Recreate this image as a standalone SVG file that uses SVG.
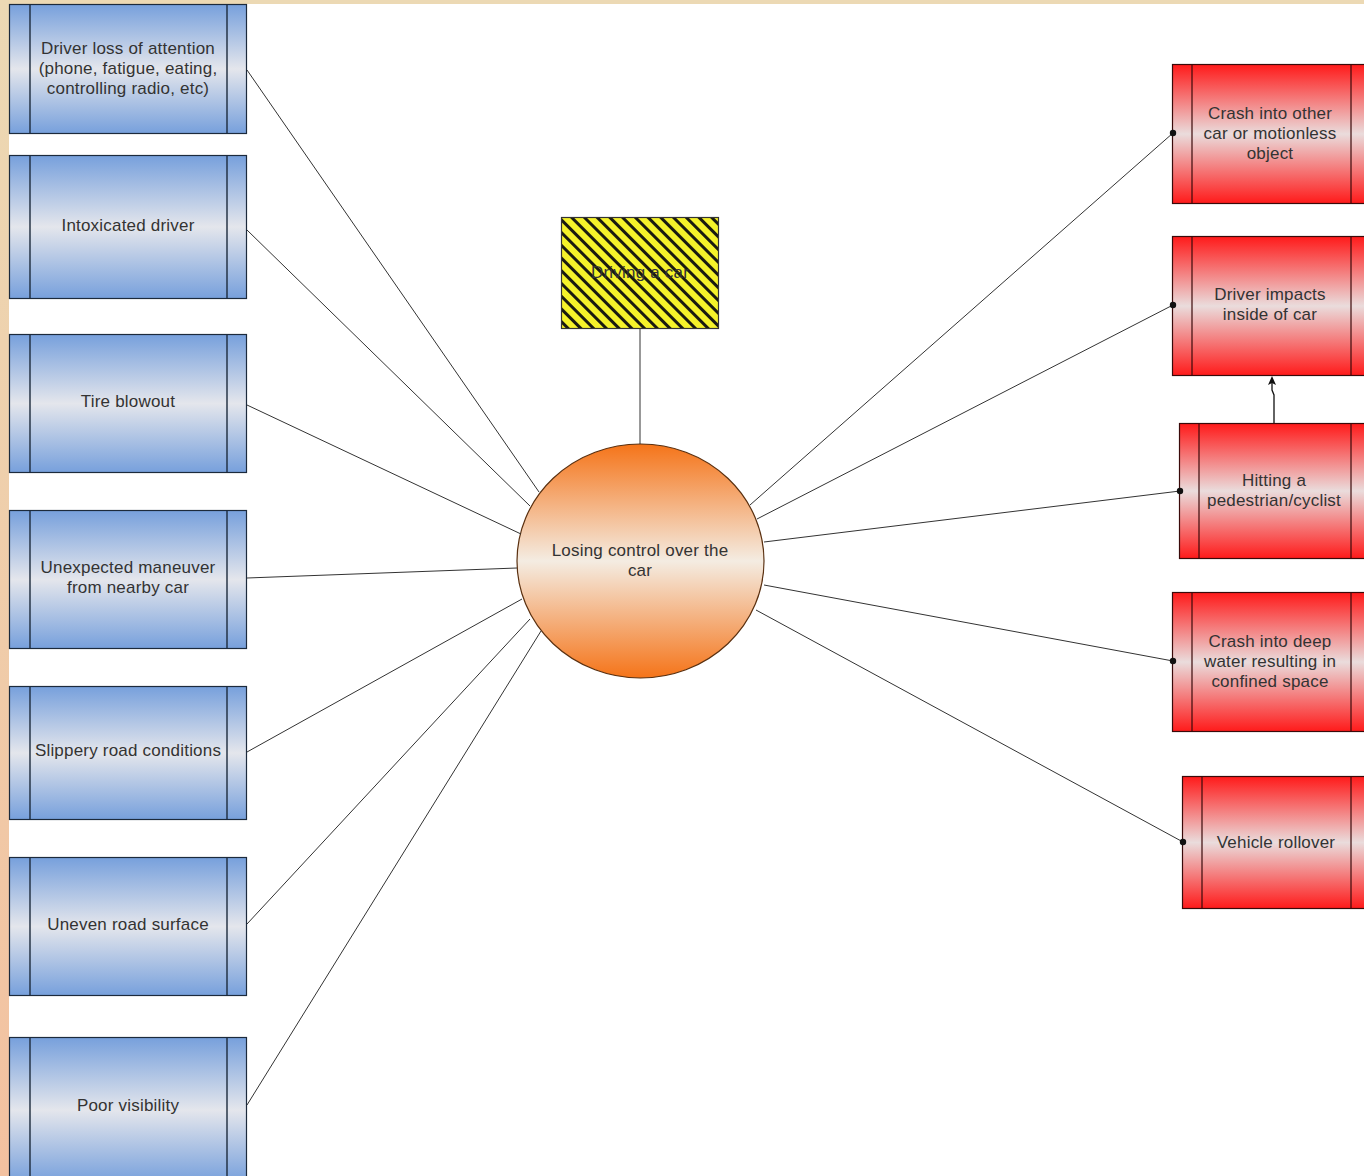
<svg xmlns="http://www.w3.org/2000/svg" width="1364" height="1176" viewBox="0 0 1364 1176">
<defs>
<linearGradient id="bgStrip" x1="0" y1="0" x2="0" y2="1">
<stop offset="0" stop-color="#ecd9b4"/>
<stop offset="1" stop-color="#f3c1a0"/>
</linearGradient>
<linearGradient id="blueG" x1="0" y1="0" x2="0" y2="1">
<stop offset="0" stop-color="#77a0dc"/>
<stop offset="0.5" stop-color="#e4e6ec"/>
<stop offset="1" stop-color="#77a0dc"/>
</linearGradient>
<linearGradient id="redG" x1="0" y1="0" x2="0" y2="1">
<stop offset="0" stop-color="#ff1a1a"/>
<stop offset="0.5" stop-color="#eadcdc"/>
<stop offset="1" stop-color="#ff1a1a"/>
</linearGradient>
<linearGradient id="orangeG" x1="0" y1="0" x2="0" y2="1">
<stop offset="0" stop-color="#f57419"/>
<stop offset="0.5" stop-color="#f4ece2"/>
<stop offset="1" stop-color="#f57419"/>
</linearGradient>
<pattern id="hatch" patternUnits="userSpaceOnUse" width="9" height="9" patternTransform="rotate(45)">
<rect width="9" height="9" fill="#f5f22a"/>
<rect y="0" width="9" height="3" fill="#1a1a10"/>
</pattern>
<marker id="arr" markerWidth="10" markerHeight="10" refX="5" refY="5" orient="auto" markerUnits="userSpaceOnUse">
<path d="M0,1 L9,5 L0,9 L2,5 Z" fill="#111"/>
</marker>
<marker id="dot" markerWidth="8" markerHeight="8" refX="4" refY="4" markerUnits="userSpaceOnUse">
<circle cx="4" cy="4" r="3.2" fill="#111"/>
</marker>
</defs>
<style>
.box{stroke:#1c2a3c;stroke-width:1.2}
.blue{fill:url(#blueG)}
.red{fill:url(#redG);stroke:#3a0a0a}
.div{stroke:#1c2a3c;stroke-width:1.4}
.rdiv{stroke:#3a0a0a;stroke-width:1.2}
.t{font-family:"Liberation Sans",Arial,sans-serif;font-size:17px;letter-spacing:0.2px;fill:#333;text-anchor:middle}
.c{stroke:#333;stroke-width:1;fill:none}
</style>
<rect width="1364" height="1176" fill="#ffffff"/>
<rect x="0" y="0" width="9" height="1176" fill="url(#bgStrip)"/>
<rect x="0" y="0" width="1364" height="4" fill="#ecd9b4"/>

<g id="n-attention">
<rect class="box blue" x="9.5" y="4.5" width="237" height="129"/>
<line class="div" x1="30" y1="4.5" x2="30" y2="133.5"/><line class="div" x1="227" y1="4.5" x2="227" y2="133.5"/>
<text class="t" x="128" y="54">Driver loss of attention</text>
<text class="t" x="128" y="74">(phone, fatigue, eating,</text>
<text class="t" x="128" y="94">controlling radio, etc)</text>
</g>
<g id="n-intoxicated">
<rect class="box blue" x="9.5" y="155.5" width="237" height="143"/>
<line class="div" x1="30" y1="155.5" x2="30" y2="298.5"/><line class="div" x1="227" y1="155.5" x2="227" y2="298.5"/>
<text class="t" x="128" y="231">Intoxicated driver</text>
</g>
<g id="n-tire">
<rect class="box blue" x="9.5" y="334.5" width="237" height="138"/>
<line class="div" x1="30" y1="334.5" x2="30" y2="472.5"/><line class="div" x1="227" y1="334.5" x2="227" y2="472.5"/>
<text class="t" x="128" y="407">Tire blowout</text>
</g>
<g id="n-maneuver">
<rect class="box blue" x="9.5" y="510.5" width="237" height="138"/>
<line class="div" x1="30" y1="510.5" x2="30" y2="648.5"/><line class="div" x1="227" y1="510.5" x2="227" y2="648.5"/>
<text class="t" x="128" y="573">Unexpected maneuver</text>
<text class="t" x="128" y="593">from nearby car</text>
</g>
<g id="n-slippery">
<rect class="box blue" x="9.5" y="686.5" width="237" height="133"/>
<line class="div" x1="30" y1="686.5" x2="30" y2="819.5"/><line class="div" x1="227" y1="686.5" x2="227" y2="819.5"/>
<text class="t" x="128" y="756">Slippery road conditions</text>
</g>
<g id="n-uneven">
<rect class="box blue" x="9.5" y="857.5" width="237" height="138"/>
<line class="div" x1="30" y1="857.5" x2="30" y2="995.5"/><line class="div" x1="227" y1="857.5" x2="227" y2="995.5"/>
<text class="t" x="128" y="930">Uneven road surface</text>
</g>
<g id="n-visibility">
<rect class="box blue" x="9.5" y="1037.5" width="237" height="145"/>
<line class="div" x1="30" y1="1037.5" x2="30" y2="1176"/><line class="div" x1="227" y1="1037.5" x2="227" y2="1176"/>
<text class="t" x="128" y="1111">Poor visibility</text>
</g>

<g id="n-driving">
<rect x="561.5" y="217.5" width="157" height="111" fill="url(#hatch)" stroke="#333" stroke-width="1.2"/>
<text class="t" x="640" y="278">Driving a car</text>
</g>

<g id="n-losing">
<ellipse cx="640.5" cy="561" rx="123.5" ry="117" fill="url(#orangeG)" stroke="#5a3010" stroke-width="1.2"/>
<text class="t" x="640" y="556">Losing control over the</text>
<text class="t" x="640" y="576">car</text>
</g>

<g id="n-crash">
<rect class="box red" x="1172.5" y="64.5" width="200" height="139"/>
<line class="rdiv" x1="1192" y1="64.5" x2="1192" y2="203.5"/><line class="rdiv" x1="1351" y1="64.5" x2="1351" y2="203.5"/>
<text class="t" x="1270" y="119">Crash into other</text>
<text class="t" x="1270" y="139">car or motionless</text>
<text class="t" x="1270" y="159">object</text>
</g>
<g id="n-impacts">
<rect class="box red" x="1172.5" y="236.5" width="200" height="139"/>
<line class="rdiv" x1="1192" y1="236.5" x2="1192" y2="375.5"/><line class="rdiv" x1="1351" y1="236.5" x2="1351" y2="375.5"/>
<text class="t" x="1270" y="300">Driver impacts</text>
<text class="t" x="1270" y="320">inside of car</text>
</g>
<g id="n-pedestrian">
<rect class="box red" x="1179.5" y="423.5" width="200" height="135"/>
<line class="rdiv" x1="1199" y1="423.5" x2="1199" y2="558.5"/><line class="rdiv" x1="1351" y1="423.5" x2="1351" y2="558.5"/>
<text class="t" x="1274" y="486">Hitting a</text>
<text class="t" x="1274" y="506">pedestrian/cyclist</text>
</g>
<g id="n-water">
<rect class="box red" x="1172.5" y="592.5" width="200" height="139"/>
<line class="rdiv" x1="1192" y1="592.5" x2="1192" y2="731.5"/><line class="rdiv" x1="1351" y1="592.5" x2="1351" y2="731.5"/>
<text class="t" x="1270" y="647">Crash into deep</text>
<text class="t" x="1270" y="667">water resulting in</text>
<text class="t" x="1270" y="687">confined space</text>
</g>
<g id="n-rollover">
<rect class="box red" x="1182.5" y="776.5" width="200" height="132"/>
<line class="rdiv" x1="1202" y1="776.5" x2="1202" y2="908.5"/><line class="rdiv" x1="1351" y1="776.5" x2="1351" y2="908.5"/>
<text class="t" x="1276" y="848">Vehicle rollover</text>
</g>

<g id="connectors">
<line class="c" x1="247" y1="70" x2="539" y2="492"/>
<line class="c" x1="247" y1="230" x2="530" y2="506"/>
<line class="c" x1="247" y1="405" x2="521" y2="534"/>
<line class="c" x1="247" y1="578" x2="517" y2="568"/>
<line class="c" x1="247" y1="752" x2="522" y2="599"/>
<line class="c" x1="247" y1="924" x2="530" y2="619"/>
<line class="c" x1="247" y1="1105" x2="541" y2="631"/>
<line class="c" x1="640" y1="329" x2="640" y2="444"/>
<line class="c" x1="750" y1="505" x2="1173" y2="133" marker-end="url(#dot)"/>
<line class="c" x1="757" y1="519" x2="1173" y2="305" marker-end="url(#dot)"/>
<line class="c" x1="764" y1="542" x2="1180" y2="491" marker-end="url(#dot)"/>
<line class="c" x1="764" y1="585" x2="1173" y2="661" marker-end="url(#dot)"/>
<line class="c" x1="756" y1="610" x2="1183" y2="842" marker-end="url(#dot)"/>
<path d="M1274,423 L1274,395 L1272,390 L1272,380" stroke="#111" stroke-width="1.3" fill="none" marker-end="url(#arr)"/>
</g>
</svg>
